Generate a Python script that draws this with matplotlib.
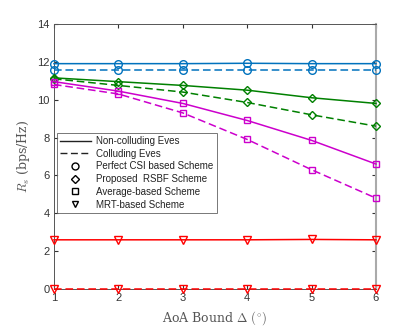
import matplotlib
matplotlib.use("Agg")
import matplotlib.pyplot as plt
from matplotlib.lines import Line2D
import numpy as np

plt.rcParams['mathtext.fontset'] = 'cm'
plt.rcParams['font.family'] = ['Liberation Sans', 'DejaVu Sans']

aoa = [1, 2, 3, 4, 5, 6]
perfect_nc = [11.9, 11.9, 11.9, 11.92, 11.9, 11.9]
perfect_c = [11.55, 11.55, 11.55, 11.55, 11.55, 11.55]
rsbf_nc = [11.15, 10.95, 10.75, 10.5, 10.1, 9.8]
rsbf_c = [11.1, 10.75, 10.4, 9.85, 9.2, 8.6]
avg_nc = [10.95, 10.45, 9.8, 8.9, 7.85, 6.6]
avg_c = [10.8, 10.3, 9.3, 7.9, 6.3, 4.8]
mrt_nc = [2.6, 2.6, 2.6, 2.6, 2.62, 2.6]
mrt_c = [0.0, 0.0, 0.0, 0.0, 0.0, 0.0]

blue = '#0072bd'
green = '#008000'
mag = '#cc00cc'
red = '#ff0000'
dash = (5, 2.5)

fig = plt.figure(figsize=(4.15, 3.27), dpi=100)
ax = fig.add_axes([0.130, 0.116, 0.776, 0.811])

def draw(y, fmt, col, ms, dashed):
    ln, = ax.plot(aoa, y, fmt, color=col, markerfacecolor='none', markersize=ms,
                  linewidth=1.1, markeredgewidth=1.0, clip_on=False, zorder=3)
    if dashed:
        ln.set_dashes(dash)

draw(perfect_nc, '-o', blue, 5.5, False)
draw(perfect_c, '--o', blue, 5.5, True)
draw(rsbf_nc, '-D', green, 4.5, False)
draw(rsbf_c, '--D', green, 4.5, True)
draw(avg_nc, '-s', mag, 4.5, False)
draw(avg_c, '--s', mag, 4.5, True)
draw(mrt_nc, '-v', red, 5.5, False)
draw(mrt_c, '--v', red, 5.5, True)

ax.set_xlim(1, 6)
ax.set_ylim(0, 14)
ax.set_xticks(aoa)
ax.set_yticks(np.arange(0, 15, 2))
ax.tick_params(direction='in', top=True, right=True, labelsize=8, length=3,
               colors='#333333', pad=3)
for s in ax.spines.values():
    s.set_color('#555555')
    s.set_linewidth(0.7)
ax.spines['right'].set_color('#aaaaaa')
ax.spines['right'].set_linewidth(1.5)

ax.set_xlabel(r'AoA Bound $\Delta$ $(^{\circ})$', family='serif', fontsize=9, color='#555555')
ax.set_ylabel(r'$R_s$ (bps/Hz)', family='serif', fontsize=9, color='#555555')

handles = [
    Line2D([], [], color='#222222', linestyle='-', linewidth=1.0),
    Line2D([], [], color='#222222', linestyle=(0, dash), linewidth=1.0),
    Line2D([], [], color='black', linestyle='none', marker='o', markerfacecolor='none', markersize=5),
    Line2D([], [], color='black', linestyle='none', marker='D', markerfacecolor='none', markersize=4.5),
    Line2D([], [], color='black', linestyle='none', marker='s', markerfacecolor='none', markersize=4),
    Line2D([], [], color='black', linestyle='none', marker='v', markerfacecolor='none', markersize=5),
]
labels = ['Non-colluding Eves', 'Colluding Eves', 'Perfect CSI based Scheme',
          'Proposed  RSBF Scheme', 'Average-based Scheme', 'MRT-based Scheme']
leg = ax.legend(handles, labels, loc='upper left', bbox_to_anchor=(0.008, 0.59),
                fontsize=7, frameon=True, fancybox=False, edgecolor='#555555',
                handlelength=3.2, handletextpad=0.5, labelspacing=0.28, borderpad=0.35,
                borderaxespad=0.0)
leg.get_frame().set_linewidth(0.7)
for t in leg.get_texts():
    t.set_color('#222222')

fig.savefig('out.png', dpi=100)
